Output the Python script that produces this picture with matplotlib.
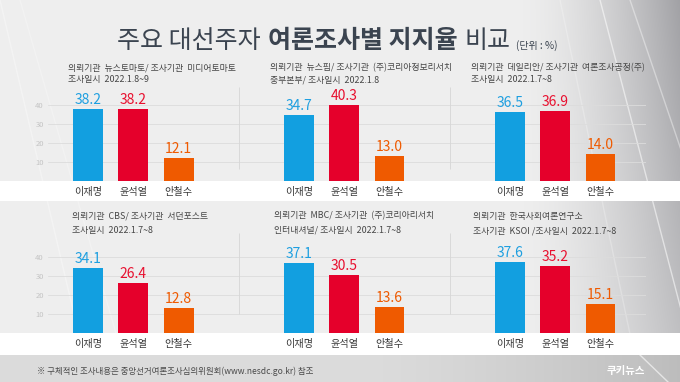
import numpy as np
import matplotlib
matplotlib.use('Agg')
import matplotlib.pyplot as plt
from matplotlib.patches import Rectangle

plt.rcParams['font.family'] = ['Noto Sans CJK KR', 'DejaVu Sans']

# ---------------- data ----------------
candidates = ['이재명', '윤석열', '안철수']
lee = [38.2, 34.7, 36.5, 34.1, 37.1, 37.6]
yoon = [38.2, 40.3, 36.9, 26.4, 30.5, 35.2]
ahn = [12.1, 13.0, 14.0, 12.8, 13.6, 15.1]
info_line1 = ['의뢰기관  뉴스토마토/ 조사기관  미디어토마토',
              '의뢰기관  뉴스핌/ 조사기관  (주)코리아정보리서치',
              '의뢰기관  데일리안/ 조사기관  여론조사공정(주)',
              '의뢰기관  CBS/ 조사기관  서던포스트',
              '의뢰기관  MBC/ 조사기관  (주)코리아리서치',
              '의뢰기관  한국사회여론연구소']
info_line2 = ['조사일시  2022.1.8~9',
              '중부본부/ 조사일시  2022.1.8',
              '조사일시  2022.1.7~8',
              '조사일시  2022.1.7~8',
              '인터내셔널/ 조사일시  2022.1.7~8',
              '조사기관  KSOI /조사일시  2022.1.7~8']
yticks = [10, 20, 30, 40]
title_parts = ['주요 대선주자', '여론조사별 지지율', '비교']
unit_text = '(단위 : %)'
footer_text = '※ 구체적인 조사내용은 중앙선거여론조사심의위원회(www.nesdc.go.kr) 참조'
logo_text = '쿠키뉴스'

bar_colors = ['#129fe0', '#e5002b', '#ef5a00']
label_colors = ['#1e9fe0', '#e8102f', '#ef5a00']

# ---------------- figure ----------------
W, H = 680, 382
fig = plt.figure(figsize=(6.8, 3.82), dpi=100)
bg = fig.add_axes([0, 0, 1, 1])
bg.set_xlim(0, W)
bg.set_ylim(H, 0)
bg.axis('off')

# background gradient
X, Y = np.meshgrid(np.linspace(0, 1, W), np.linspace(0, 1, H))
t = np.clip((X - 0.76) / 0.24, 0, 1) ** 1.6 * (1 - 0.45 * Y)
v = 0.935 - 0.30 * t
img = np.dstack([v, v, v + 0.015 * t])
bg.imshow(np.clip(img, 0, 1), extent=[0, W, H, 0], aspect='auto', zorder=0)
# subtle diagonal streaks
for x0, x1, a in [(0, 90, 0.35), (20, 130, 0.25), (600, 700, 0.55), (630, 760, 0.4), (560, 640, 0.25)]:
    bg.plot([x0, x1], [0, H], color='white', lw=1.0, alpha=a, zorder=0.5)

# white label bands
bg.add_patch(Rectangle((0, 180.5), W, 20.5, fc='white', ec='none', zorder=1))
bg.add_patch(Rectangle((0, 332.5), W, 22.5, fc='white', ec='none', zorder=1))
# footer
fx = np.linspace(0, 1, W)
fv = 0.86 - 0.12 * np.clip((fx - 0.55) / 0.45, 0, 1) ** 1.3
fimg = np.dstack([np.tile(fv, (27, 1))] * 3)
bg.imshow(fimg, extent=[0, W, H, 355], aspect='auto', zorder=1)
bg.plot([640, 668], [355, H], color='white', lw=1.0, alpha=0.6, zorder=1.5)
bg.set_xlim(0, W)
bg.set_ylim(H, 0)

# ---------------- bars ----------------
px_per_unit = 1.88
ytop = 64
group_off = 4.658
baselines = [180.5, 332.5]
sep_ranges = [(6, 50), (10, 53)]
for r in range(2):
    base = baselines[r]
    ax = fig.add_axes([48 / W, (H - base) / H, 598 / W, ytop * px_per_unit / H])
    ax.set_facecolor('none')
    ax.set_xlim(-0.883, 12.32)
    ax.set_ylim(0, ytop)
    for s in ax.spines.values():
        s.set_visible(False)
    ax.set_xticks([])
    ax.set_yticks(yticks)
    ax.tick_params(axis='y', length=0, labelsize=5.5, labelcolor='#c4c4c4', pad=3)
    for yt in yticks:
        ax.axhline(yt, color='#dcdcdc', lw=0.6, zorder=1)
    ax.vlines([group_off * 0.5 + 1.0, group_off * 1.5 + 1.0], sep_ranges[r][0], sep_ranges[r][1],
              color='#d6d6d6', lw=0.6, zorder=1)
    for p in range(3):
        k = r * 3 + p
        vals = [lee[k], yoon[k], ahn[k]]
        xs = [p * group_off + i for i in range(3)]
        ax.bar(xs, vals, width=0.66, color=bar_colors, zorder=3)
        for i in range(3):
            ax.annotate(f'{vals[i]:.1f}', (xs[i], vals[i]), xytext=(0, 3.6),
                        textcoords='offset points', ha='center', va='baseline',
                        fontsize=10, color=label_colors[i], zorder=4)
            ax.annotate(candidates[i], (xs[i], 0), xytext=(0, -8.4),
                        textcoords='offset points', ha='center', va='center',
                        fontsize=7.3, color='#3a3a3a', zorder=4)

# ---------------- panel info text ----------------
info_pos = [(68, 68, 79.5), (270, 67.5, 79.5), (471, 67.5, 79.5),
            (72, 216, 231), (274, 216, 230.5), (473, 216, 231)]
for k, (x, y1, y2) in enumerate(info_pos):
    bg.text(x, y1, info_line1[k], fontsize=6.4, color='#464646', va='center', ha='left', zorder=5)
    bg.text(x, y2, info_line2[k], fontsize=6.4, color='#464646', va='center', ha='left', zorder=5)

# ---------------- title ----------------
fig.canvas.draw()
renderer = fig.canvas.get_renderer()
x = 117
weights = ['normal', 'bold', 'normal']
for part, w in zip(title_parts, weights):
    tt = bg.text(x, 48.5, part, fontsize=18, fontweight=w, color='#3b4450',
                 ha='left', va='baseline', zorder=5)
    ext = tt.get_window_extent(renderer)
    x = x + ext.width + 7
bg.text(x - 1, 48.5, unit_text, fontsize=7.2, color='#3b4450', ha='left', va='baseline', zorder=5)

# ---------------- footer ----------------
bg.text(37, 371, footer_text, fontsize=6.1, color='#4a4a4a', ha='left', va='center', zorder=5)
bg.text(626, 371, logo_text, fontsize=7.5, fontweight='bold', color='white',
        ha='center', va='center', zorder=5)

fig.savefig('out.png', dpi=100)
